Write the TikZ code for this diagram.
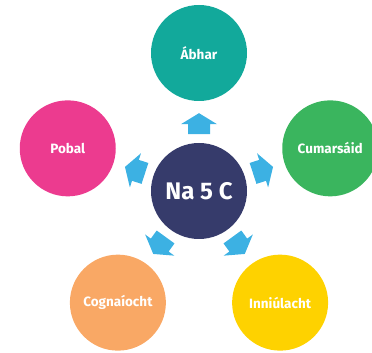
\documentclass[tikz,border=0pt]{standalone}
\usepackage{fontspec}
\setmainfont{Fira Sans}
\usetikzlibrary{positioning,calc}

\definecolor{cnavy}{HTML}{363B6B}
\definecolor{cteal}{HTML}{12A99B}
\definecolor{cpink}{HTML}{EC3B8F}
\definecolor{cgreen}{HTML}{3AB55E}
\definecolor{corange}{HTML}{F9A865}
\definecolor{cyellow}{HTML}{FED200}
\definecolor{cblue}{HTML}{3CB1E3}

\tikzset{
  blockarrow/.pic={
    \fill[cblue] (-10.5,-11) -- (-10.5,11) -- (-0.5,11) -- (-0.5,18)
      -- (10.5,0) -- (-0.5,-18) -- (-0.5,-11) -- cycle;
  }
}

\begin{document}
\begin{tikzpicture}[x=1pt, y=1pt,
            every node/.style={circle, minimum size=96pt, inner sep=0pt,
              text=white, font=\bfseries\fontsize{13.5}{16}\selectfont}]
        \path[use as bounding box, clip] (0,0) rectangle (372,353);

        \node[fill=cnavy, font=\bfseries\fontsize{24}{28}\selectfont] (na5c) at (199,162) {Na 5 C};

        \node[fill=cteal]   (abhar)  at ($(na5c)+(90:138)$)  {Ábhar};
        \node[fill=cpink]   (pobal)  at ($(na5c)+(162:138)$) {Pobal};
        \node[fill=cgreen]  (cumars) at ($(na5c)+(18:138)$)  {Cumarsáid};
        \node[fill=corange] (cognai) at ($(na5c)+(234:138)$) {Cognaíocht};
        \node[fill=cyellow] (inniul) at ($(na5c)+(306:138)$) {Inniúlacht};

        % arrows out from the middle
        \foreach \c in {abhar,pobal,cumars,cognai,inniul}
          \path (na5c) -- (\c) pic[pos=0.46, sloped, allow upside down]{blockarrow};
\end{tikzpicture}
\end{document}
